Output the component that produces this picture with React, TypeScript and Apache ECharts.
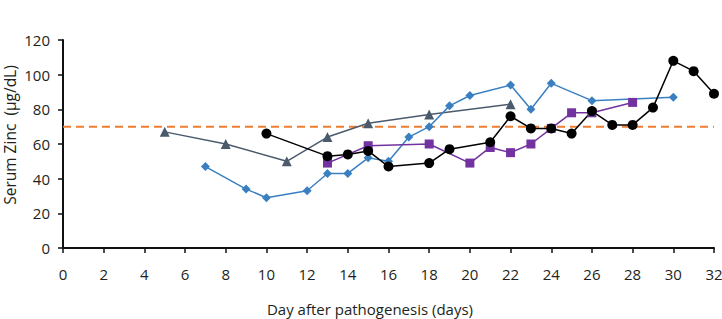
import React, { useEffect, useRef } from "react";
import * as echarts from "echarts";

const triangleSeries: [number, number][] = [
  [5, 67], [8, 60], [11, 50], [13, 64], [15, 72], [18, 77], [22, 83],
];
const diamondSeries: [number, number][] = [
  [7, 47], [9, 34], [10, 29], [12, 33], [13, 43], [14, 43], [15, 52], [16, 50],
  [17, 64], [18, 70], [19, 82], [20, 88], [22, 94], [23, 80], [24, 95], [26, 85], [30, 87],
];
const squareSeries: [number, number][] = [
  [13, 49], [15, 59], [18, 60], [20, 49], [21, 58], [22, 55], [23, 60], [24, 69],
  [25, 78], [26, 78], [28, 84],
];
const circleSeries: [number, number][] = [
  [10, 66], [13, 53], [14, 54], [15, 56], [16, 47], [18, 49], [19, 57], [21, 61],
  [22, 76], [23, 69], [24, 69], [25, 66], [26, 79], [27, 71], [28, 71], [29, 81],
  [30, 108], [31, 102], [32, 89],
];
const referenceLevel = 70;
const xRange = [0, 32];
const xAxisTitle = "Day after pathogenesis (days)";
const yAxisTitle = "Serum Zinc  (µg/dL)";

const FONT = "'Open Sans', 'Noto Sans', sans-serif";
const TEXT = "#231f20";

export default function App() {
  const ref = useRef<HTMLDivElement>(null);
  useEffect(() => {
    if (!ref.current) return;
    const chart = echarts.init(ref.current, null, { renderer: "svg" });
    const lineSeries = (data: [number, number][], color: string, symbol: string, size: number) => ({
      type: "line",
      data,
      symbol,
      symbolSize: size,
      showAllSymbol: true,
      lineStyle: { color, width: 1.5 },
      itemStyle: { color },
      z: 3,
    });
    chart.setOption({
      animation: false,
      textStyle: { fontFamily: FONT },
      grid: { left: 63, right: 8, top: 40, bottom: 71, containLabel: false, outerBoundsMode: "none" },
      graphic: [
        {
          type: "text",
          x: 370,
          y: 309,
          style: {
            text: xAxisTitle,
            fill: TEXT,
            font: `15px ${FONT}`,
            align: "center",
            verticalAlign: "middle",
          },
        },
        {
          type: "text",
          x: 10,
          y: 135,
          rotation: Math.PI / 2,
          style: {
            text: yAxisTitle,
            fill: TEXT,
            font: `15.5px ${FONT}`,
            align: "center",
            verticalAlign: "middle",
          },
        },
      ],
      xAxis: {
        type: "value",
        min: 0,
        max: 32,
        interval: 2,
        axisLine: { lineStyle: { color: "#111", width: 2 } },
        axisTick: { show: true, length: 5, lineStyle: { color: "#111", width: 1.5 } },
        axisLabel: { color: TEXT, fontSize: 15, margin: 18, fontFamily: FONT },
        splitLine: { show: false },
      },
      yAxis: {
        type: "value",
        min: 0,
        max: 120,
        interval: 20,
        axisLine: { show: true, lineStyle: { color: "#111", width: 2 } },
        axisTick: { show: true, length: 5, lineStyle: { color: "#111", width: 1.5 } },
        axisLabel: { color: TEXT, fontSize: 15, margin: 13, fontFamily: FONT },
        splitLine: { show: false },
      },
      series: [
        {
          type: "line",
          data: [[xRange[0], referenceLevel], [xRange[1], referenceLevel]],
          symbol: "none",
          lineStyle: { color: "#ed7d31", width: 2, type: [8, 5] },
          z: 1,
        },
        lineSeries(triangleSeries, "#4b5a6c", "triangle", 10),
        lineSeries(diamondSeries, "#3a80c1", "diamond", 9),
        lineSeries(squareSeries, "#7232a0", "rect", 9),
        lineSeries(circleSeries, "#000000", "circle", 10),
      ],
    });
    return () => chart.dispose();
  }, []);
  return <div ref={ref} style={{ width: 722, height: 319, position: "absolute", left: 0, top: 0 }} />;
}
